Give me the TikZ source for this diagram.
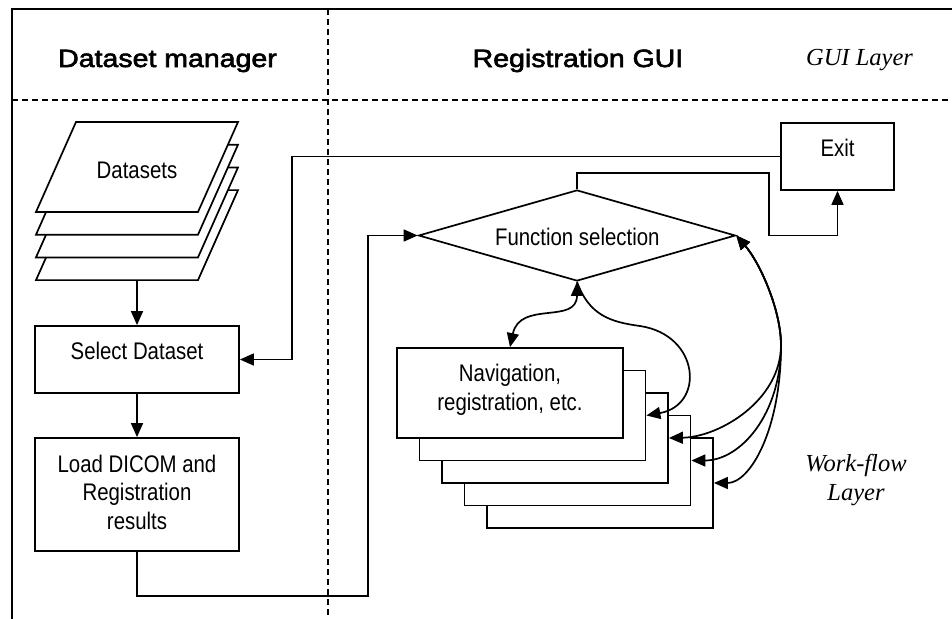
\documentclass[tikz,border=0pt]{standalone}
\usepackage{fontspec}
\setmainfont{Liberation Serif}
\newfontfamily\bodyfont[FakeStretch=0.85]{Liberation Sans}
\newfontfamily\headfont[FakeStretch=1.14,FakeBold=2.5]{Liberation Sans}
\usetikzlibrary{arrows.meta,shapes.geometric}
\newcommand\mylines[1]{\begin{tabular}[t]{@{}c@{}}#1\end{tabular}}
\tikzset{
  box/.style={draw, fill=white, line width=1.8pt, inner sep=0pt, rectangle},
  txt/.style={inner sep=0pt, anchor=base, font=\bodyfont\fontsize{24}{28.5}\selectfont},
  head/.style={inner sep=0pt, anchor=base, font=\headfont\fontsize{25}{28}\selectfont},
  layer/.style={inner sep=0pt, anchor=base, font=\itshape\fontsize{24.5}{28.5}\selectfont},
  dashline/.style={line width=1.5pt, dash pattern=on 6pt off 4pt},
  tip/.tip={Triangle[length=14pt,width=12pt]},
  arr/.style={-tip, line width=1.7pt},
  dbl/.style={tip-tip, line width=1.7pt},
}
\begin{document}
\begin{tikzpicture}[x=1pt,y=-1pt]
\useasboundingbox (0,0) rectangle (952,618);
\clip (0,0) rectangle (952,618);

% outer frame and layer separators
\draw[line width=1.8pt] (12,660) -- (12,9) -- (990,9);
\draw[dashline] (12,100) -- (952,100);
\draw[dashline] (328,9) -- (328,618);

% stack of datasets
\foreach \k in {3,2,1,0}
  \draw[fill=white, line width=1.7pt]
    (76,{122+22.7*\k}) -- (238,{122+22.7*\k}) -- (198,{212+22.7*\k}) -- (36,{212+22.7*\k}) -- cycle;
\coordinate (stackbot) at (137,280);

% left column boxes
\node[box, minimum width=204pt, minimum height=67pt] (sel) at (137,359.5) {};
\node[box, minimum width=204pt, minimum height=113pt] (load) at (137,494.5) {};

% exit and function selection
\node[box, minimum width=113pt, minimum height=67pt] (exit) at (837.5,156.5) {};
\node[draw, fill=white, diamond, aspect=3.5, minimum width=317pt, minimum height=91pt,
      inner sep=0pt, line width=1.7pt] (fsel) at (577,235.5) {};

% stacked work-flow boxes, back to front
\foreach \k in {4,3,2,1,0}
  \node[box, minimum width=226pt, minimum height=90pt] (nav\k) at ({510+22.5*\k},{393+22.5*\k}) {};

% straight connectors
\draw[arr] (stackbot) -- (sel.north);
\draw[arr] (sel.south) -- (load.north);
\coordinate (loopL) at (368,596);
\draw[arr] (load.south) |- (loopL) |- (fsel.west);
\coordinate (backX) at (292,0);
\draw[arr] (exit.west) -| (backX |- sel.east) -- (sel.east);
\coordinate (upA) at (769,173);
\draw[arr] (fsel.north) |- (upA) |- (exit.south |- fsel.east) -- (exit.south);

% curved connectors between selection and work-flows
\draw[dbl] (fsel.south) .. controls (577,325) and (520,300) .. (nav0.north);
\draw[arr] (fsel.south) .. controls (589,315) and (610,322) .. (640,326)
                        .. controls (700,335) and (705,405) .. (nav1.east);
\coordinate (fork) at (781,345);
\draw[dbl] (fsel.east) .. controls (760,263) and (781,310) .. (fork)
                       .. controls (781,400) and (720,437) .. (nav2.east);
\draw[dbl] (fsel.east) .. controls (760,263) and (781,310) .. (fork)
                       .. controls (781,415) and (740,460.5) .. (nav3.east);
\draw[dbl] (fsel.east) .. controls (760,263) and (781,310) .. (fork)
                       .. controls (781,430) and (750,483) .. (nav4.east);

% texts
\node[head] (hdm) at (167.5,67) {Dataset manager};
\node[head] (hrg) at (578,67) {Registration GUI};
\node[layer] (lgui) at (859.5,65) {GUI Layer};
\node[txt] (tds) at (137,178) {Datasets};
\node[txt] (tsel) at (137,359.5) {Select Dataset};
\node[txt] (tload) at (137,472) {\mylines{Load DICOM and\\Registration\\results}};
\node[txt] (texit) at (837.5,156) {Exit};
\node[txt] (tfs) at (577.3,245) {Function selection};
\node[txt] (tnav) at (510,381.7) {\mylines{Navigation,\\registration, etc.}};
\node[layer] (lwf) at (856,471.5) {\mylines{Work-flow\\Layer}};
\end{tikzpicture}
\end{document}
